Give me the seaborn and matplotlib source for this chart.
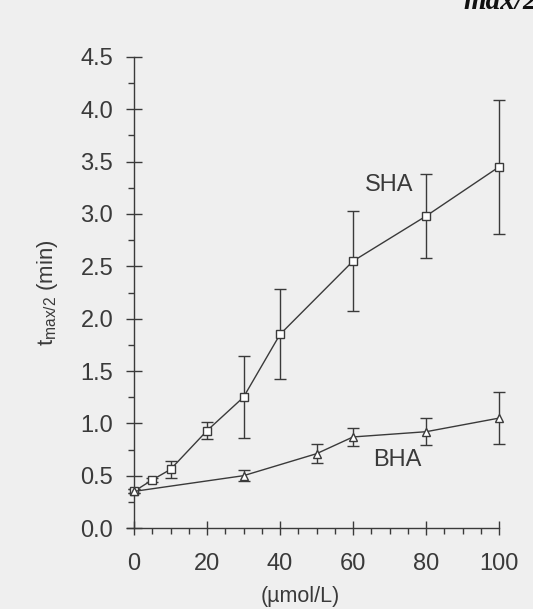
import numpy as np
import pandas as pd
import matplotlib
matplotlib.use('Agg')
import matplotlib.pyplot as plt
import seaborn as sns
from matplotlib.ticker import FixedLocator

# data
sha_x = [0, 5, 10, 20, 30, 40, 60, 80, 100]
sha_y = [0.35, 0.46, 0.56, 0.93, 1.25, 1.85, 2.55, 2.98, 3.45]
sha_sd = [0.02, 0.02, 0.08, 0.08, 0.39, 0.43, 0.48, 0.40, 0.64]

bha_x = [0, 30, 50, 60, 80, 100]
bha_y = [0.35, 0.50, 0.71, 0.87, 0.92, 1.05]
bha_sd = [0.02, 0.05, 0.09, 0.09, 0.13, 0.25]

x_ticks = [0, 20, 40, 60, 80, 100]
y_ticks = [0.0, 0.5, 1.0, 1.5, 2.0, 2.5, 3.0, 3.5, 4.0, 4.5]

sns.set_style('ticks')
plt.rcParams['font.family'] = ['Liberation Sans', 'DejaVu Sans']

bg = '#efefef'
ink = '#3a3a3a'

df = pd.concat([
    pd.DataFrame({'conc': sha_x, 't': sha_y, 'sd': sha_sd, 'compound': 'SHA'}),
    pd.DataFrame({'conc': bha_x, 't': bha_y, 'sd': bha_sd, 'compound': 'BHA'}),
])

fig = plt.figure(figsize=(5.33, 6.09), dpi=100, facecolor=bg)
ax = fig.add_axes([0.2172, 0.1072, 0.7533, 0.825])
ax.set_facecolor(bg)

# error bars first so markers sit on top
for name, g in df.groupby('compound'):
    ax.errorbar(g['conc'], g['t'], yerr=g['sd'], fmt='none', ecolor=ink,
                elinewidth=1.0, capsize=4, capthick=1.0, zorder=2)

sns.lineplot(data=df, x='conc', y='t', hue='compound', style='compound',
             markers={'SHA': 's', 'BHA': '^'}, dashes=False,
             palette={'SHA': ink, 'BHA': ink}, markersize=6,
             markerfacecolor='white', markeredgecolor=ink, markeredgewidth=1.0,
             linewidth=1.0, legend=False, ax=ax, zorder=3)

ax.text(70, 3.28, 'SHA', fontsize=17, color=ink, ha='center', va='center')
ax.text(72, 0.65, 'BHA', fontsize=17, color=ink, ha='center', va='center')

ax.set_xlim(-5, 105)
ax.set_ylim(-0.15, 4.65)

# axis lines through the origin, like the original
ax.spines['left'].set_position(('data', 0))
ax.spines['bottom'].set_position(('data', 0))
ax.spines['left'].set_bounds(0, 4.5)
ax.spines['bottom'].set_bounds(-2, 100)
for s in ['top', 'right']:
    ax.spines[s].set_visible(False)
for s in ['left', 'bottom']:
    ax.spines[s].set_color(ink)
    ax.spines[s].set_linewidth(1.0)

ax.set_xticks(x_ticks)
ax.set_yticks(y_ticks)
ax.set_yticklabels([f'{v:.1f}' for v in y_ticks])
# minor ticks only between the major ones
ax.xaxis.set_minor_locator(FixedLocator([v for v in range(5, 100, 5) if v % 20]))
ax.yaxis.set_minor_locator(FixedLocator([v + 0.25 for v in y_ticks[:-1]]))
ax.tick_params(axis='y', which='major', direction='inout', length=12, width=1.0,
               colors=ink, labelsize=17, pad=9)
ax.tick_params(axis='x', which='major', direction='inout', length=10, width=1.0,
               colors=ink, labelsize=17, pad=13)
ax.tick_params(which='minor', direction='out', length=4.5, width=1.0, colors=ink)

ax.set_xlabel('(\u00b5mol/L)', fontsize=15.5, color=ink)
ax.set_ylabel(r'$\mathregular{t_{max/2}}$ (min)', fontsize=16, color=ink)
ax.xaxis.set_label_coords(0.459, -0.084)
ax.yaxis.set_label_coords(-0.14, 0.5)

# clipped running header at the top edge of the scan
fig.text(0.87, 0.998, 'max/2', fontsize=21, family='Liberation Serif',
         style='italic', weight='bold', color='#111111', ha='left', va='center')

fig.savefig('out.png', dpi=100, facecolor=bg)
